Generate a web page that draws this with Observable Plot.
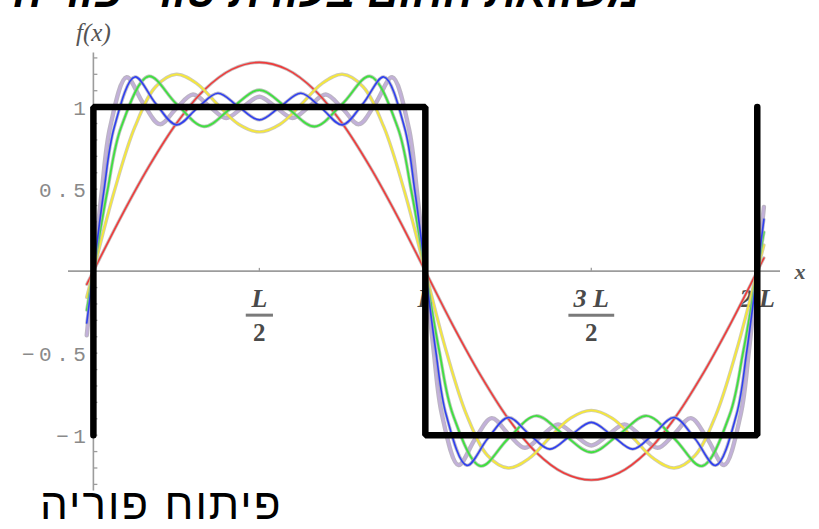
<!DOCTYPE html>
<html><head><meta charset="utf-8">
<script src="https://cdn.jsdelivr.net/npm/d3@7"></script>
<script src="https://cdn.jsdelivr.net/npm/@observablehq/plot@0.6"></script>
<style>
html,body{margin:0;padding:0;background:#fff;overflow:hidden;}
#wrap{position:relative;width:819px;height:529px;overflow:hidden;background:#fff;}
#chart{position:absolute;left:0;top:0;}
#title{position:absolute;right:179px;top:-30px;font:italic bold 44px "Liberation Sans","DejaVu Sans",sans-serif;line-height:44px;direction:rtl;white-space:nowrap;color:#000;}
#caption{position:absolute;left:40px;top:482px;font:44px "Liberation Sans","DejaVu Sans",sans-serif;line-height:44px;letter-spacing:2px;direction:rtl;white-space:nowrap;color:#000;}
</style></head><body>
<div id="wrap"><div id="chart"></div><div id="title">משוואת החום בעזרת טורי פוריה</div><div id="caption">פיתוח פוריה</div></div>
<script>
// square wave f(x) (x in units of L)
const squareX = [0, 0, 1, 1, 2, 2];
const squareY = [-1, 1, 1, -1, -1, 1];

// partial sums
const redX = [-0.02, 0, 0.083, 0.167, 0.25, 0.333, 0.417, 0.5, 0.583, 0.667, 0.75, 0.833, 0.917, 1, 1.083, 1.167, 1.25, 1.333, 1.417, 1.5, 1.583, 1.667, 1.75, 1.833, 1.917, 2, 2.02];
const redY = [-0.08, 0, 0.33, 0.637, 0.9, 1.103, 1.23, 1.273, 1.23, 1.103, 0.9, 0.637, 0.33, 0, -0.33, -0.637, -0.9, -1.103, -1.23, -1.273, -1.23, -1.103, -0.9, -0.637, -0.33, 0, 0.08];

const yellowX = [-0.02, 0, 0.0625, 0.125, 0.1875, 0.25, 0.3125, 0.375, 0.4375, 0.5, 0.5625, 0.625, 0.6875, 0.75, 0.8125, 0.875, 0.9375, 1, 1.0625, 1.125, 1.1875, 1.25, 1.3125, 1.375, 1.4375, 1.5, 1.5625, 1.625, 1.6875, 1.75, 1.8125, 1.875, 1.9375, 2, 2.02];
const yellowY = [-0.159, 0, 0.484, 0.879, 1.124, 1.2, 1.142, 1.014, 0.896, 0.849, 0.896, 1.014, 1.142, 1.2, 1.124, 0.879, 0.484, 0, -0.484, -0.879, -1.124, -1.2, -1.142, -1.014, -0.896, -0.849, -0.896, -1.014, -1.142, -1.2, -1.124, -0.879, -0.484, 0, 0.159];

const greenX = [-0.02, 0, 0.0417, 0.0833, 0.1667, 0.25, 0.3333, 0.4167, 0.5, 0.5833, 0.6667, 0.75, 0.8333, 0.9167, 0.9583, 1, 1.0417, 1.0833, 1.1667, 1.25, 1.3333, 1.4167, 1.5, 1.5833, 1.6667, 1.75, 1.8333, 1.9167, 1.9583, 2, 2.02];
const greenY = [-0.238, 0, 0.484, 0.876, 1.188, 1.02, 0.882, 0.996, 1.104, 0.996, 0.882, 1.02, 1.188, 0.876, 0.484, 0, -0.484, -0.876, -1.188, -1.02, -0.882, -0.996, -1.104, -0.996, -0.882, -1.02, -1.188, -0.876, -0.484, 0, 0.238];

const blueX = [-0.02, 0, 0.03125, 0.0625, 0.125, 0.1875, 0.25, 0.3125, 0.375, 0.4375, 0.5, 0.5625, 0.625, 0.6875, 0.75, 0.8125, 0.875, 0.9375, 0.96875, 1, 1.03125, 1.0625, 1.125, 1.1875, 1.25, 1.3125, 1.375, 1.4375, 1.5, 1.5625, 1.625, 1.6875, 1.75, 1.8125, 1.875, 1.9375, 1.96875, 2, 2.02];
const blueY = [-0.316, 0, 0.483, 0.874, 1.184, 1.022, 0.892, 0.993, 1.085, 1.002, 0.922, 1.002, 1.085, 0.993, 0.892, 1.022, 1.184, 0.874, 0.483, 0, -0.483, -0.874, -1.184, -1.022, -0.892, -0.993, -1.085, -1.002, -0.922, -1.002, -1.085, -0.993, -0.892, -1.022, -1.184, -0.874, -0.483, 0, 0.316];

const purpleX = [-0.02, 0, 0.025, 0.05, 0.1, 0.15, 0.2, 0.25, 0.3, 0.35, 0.4, 0.45, 0.5, 0.55, 0.6, 0.65, 0.7, 0.75, 0.8, 0.85, 0.9, 0.95, 0.975, 1, 1.025, 1.05, 1.1, 1.15, 1.2, 1.25, 1.3, 1.35, 1.4, 1.45, 1.5, 1.55, 1.6, 1.65, 1.7, 1.75, 1.8, 1.85, 1.9, 1.95, 1.975, 2, 2.02];
const purpleY = [-0.391, 0, 0.483, 0.874, 1.182, 1.023, 0.896, 0.992, 1.077, 1.004, 0.934, 0.999, 1.063, 0.999, 0.934, 1.004, 1.077, 0.992, 0.896, 1.023, 1.182, 0.874, 0.483, 0, -0.483, -0.874, -1.182, -1.023, -0.896, -0.992, -1.077, -1.004, -0.934, -0.999, -1.063, -0.999, -0.934, -1.004, -1.077, -0.992, -0.896, -1.023, -1.182, -0.874, -0.483, 0, 0.391];

// axes
const yTickValues = [1, 0.5, -0.5, -1];
const yTickLabels = ["1", "0.5", "\u22120.5", "\u22121"];
const yMinorTicks = [-1.3, -1.2, -1.1, -1, -0.9, -0.8, -0.7, -0.6, -0.5, -0.4, -0.3, -0.2, -0.1, 0.1, 0.2, 0.3, 0.4, 0.5, 0.6, 0.7, 0.8, 0.9, 1, 1.1, 1.2, 1.3];
const yAxisExtent = [-1.34, 1.33];
const xTickPos = [0.5, 1, 1.5, 2];
const xTickNum = ["L", "L", "3 L", "2 L"];
const xTickDen = ["2", "", "2", ""];

const toRows = (xs, ys) => xs.map((x, i) => ({x, y: ys[i]}));
const curveSpecs = [
  {xs: purpleX, ys: purpleY, color: "#c2b0da", halo: "#a69caf", w: 2.2, hw: 4.4},
  {xs: redX, ys: redY, color: "#f03a3a", halo: "#b4a4a4", w: 1.6, hw: 3.2},
  {xs: yellowX, ys: yellowY, color: "#f6e83a", halo: "#bcb8a0", w: 1.8, hw: 3.4},
  {xs: greenX, ys: greenY, color: "#3fe03f", halo: "#a0b4a0", w: 1.8, hw: 3.4},
  {xs: blueX, ys: blueY, color: "#2f3ff0", halo: "#a0a0bc", w: 1.6, hw: 3.2}
];

const axisGray = "#9c9c9c";
const serif = "Liberation Serif, DejaVu Serif, serif";
const idx = xTickPos.map((_, i) => i);
const fracIdx = idx.filter(i => xTickDen[i] !== "");

const marks = [
  Plot.ruleY([0], {stroke: axisGray, strokeWidth: 1.6}),
  Plot.ruleX([0], {y1: yAxisExtent[0], y2: yAxisExtent[1], stroke: axisGray, strokeWidth: 1.6}),
  Plot.link(yMinorTicks, {x1: 0, x2: 0.012, y1: d => d, y2: d => d, stroke: axisGray, strokeWidth: 1.3}),
  Plot.link(xTickPos, {x1: d => d, x2: d => d, y1: 0, y2: 0.02, stroke: axisGray, strokeWidth: 1.3}),
  Plot.text(yTickValues, {x: 0, y: d => d, text: (d, i) => yTickLabels[i], dx: -3, dy: 1, textAnchor: "end",
    fontFamily: "Liberation Mono, DejaVu Sans Mono, monospace", fontSize: 21, fill: "#8a8a8a"}),
  Plot.text(idx, {x: i => xTickPos[i], y: 0, text: i => xTickNum[i], dy: 28, fontFamily: serif,
    fontStyle: "italic", fontWeight: "bold", fontSize: 26, fill: "#4a4a4a"}),
  Plot.link(fracIdx, {x1: i => xTickPos[i] - (0.027 + 0.014 * xTickNum[i].length), x2: i => xTickPos[i] + (0.027 + 0.014 * xTickNum[i].length),
    y1: 0, y2: 0, dy: 44, stroke: "#7a7a7a", strokeWidth: 3}),
  Plot.text(fracIdx, {x: i => xTickPos[i], y: 0, text: i => xTickDen[i], dy: 62, fontFamily: serif,
    fontWeight: "bold", fontSize: 25, fill: "#4a4a4a"}),
  Plot.text(["f(x)"], {x: 0, frameAnchor: "top", dy: 23, fontFamily: serif, fontStyle: "italic", fontSize: 25, fill: "#555"}),
  Plot.text(["x"], {frameAnchor: "right", y: 0, dx: 25, dy: 1, fontFamily: serif, fontStyle: "italic", fontWeight: "bold", fontSize: 22, fill: "#555"})
];
for (const c of curveSpecs) {
  const rows = toRows(c.xs, c.ys);
  marks.push(Plot.line(rows, {x: "x", y: "y", curve: "catmull-rom", stroke: c.halo, strokeWidth: c.hw, strokeOpacity: 0.75}));
  marks.push(Plot.line(rows, {x: "x", y: "y", curve: "catmull-rom", stroke: c.color, strokeWidth: c.w}));
}
marks.push(Plot.line(toRows(squareX, squareY), {x: "x", y: "y", stroke: "#000", strokeWidth: 6.5, strokeLinejoin: "miter", strokeLinecap: "round"}));

const chart = Plot.plot({
  width: 819,
  height: 529,
  marginLeft: 68,
  marginRight: 39,
  marginTop: 0,
  marginBottom: 0,
  x: {domain: [-0.075, 2.07], axis: null},
  y: {domain: [-1.575, 1.65], axis: null},
  style: {background: "transparent", overflow: "visible"},
  marks
});
d3.select(chart).selectAll("text")
  .filter(function () { return yTickLabels.includes(this.textContent); })
  .style("letter-spacing", "4.5px");
document.getElementById("chart").appendChild(chart);
</script>
</body></html>
